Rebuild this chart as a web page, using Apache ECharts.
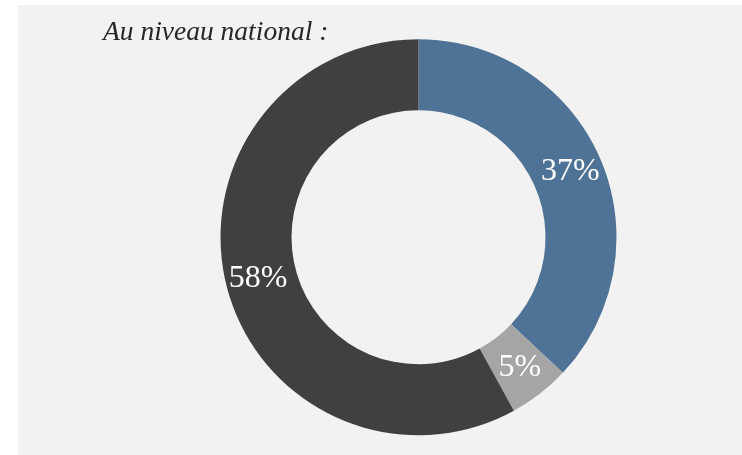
<!DOCTYPE html>
<html>
<head>
<meta charset="utf-8">
<script src="https://cdn.jsdelivr.net/npm/echarts@6/dist/echarts.min.js"></script>
<style>
  html, body { margin: 0; padding: 0; background: #ffffff; }
  #chart { position: absolute; left: 18px; top: 5px; width: 724px; height: 450px; background: #f2f2f2; }
</style>
</head>
<body>
<div id="chart"></div>
<script>
const titleText = 'Au niveau national :';
const categories = ['Catégorie A', 'Catégorie B', 'Catégorie C'];
const values = [37, 5, 58];
const colors = ['#4f7396', '#a5a5a5', '#404040'];

const chart = echarts.init(document.getElementById('chart'));
chart.setOption({
  backgroundColor: '#f2f2f2',
  animation: false,
  title: {
    text: titleText,
    left: 80,
    top: 9,
    textStyle: {
      fontFamily: 'Liberation Serif',
      fontStyle: 'italic',
      fontWeight: 'normal',
      fontSize: 27.5,
      color: '#262626'
    }
  },
  series: [{
    type: 'pie',
    center: [400.5, 232.3],
    radius: [127, 198],
    startAngle: 90,
    clockwise: true,
    avoidLabelOverlap: false,
    label: {
      show: true,
      position: 'inside',
      formatter: '{c}%',
      fontFamily: 'Liberation Serif',
      fontSize: 32,
      color: '#ffffff'
    },
    labelLine: { show: false },
    emphasis: { disabled: true },
    data: categories.map((c, i) => ({ name: c, value: values[i], itemStyle: { color: colors[i] } }))
  }]
});
</script>
</body>
</html>
